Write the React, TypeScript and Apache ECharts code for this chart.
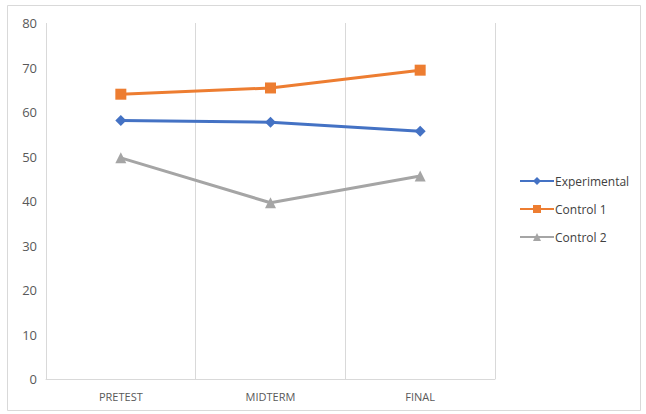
import React, { useEffect, useRef } from "react";
import * as echarts from "echarts";

const categories = ["PRETEST", "MIDTERM", "FINAL"];
const experimental = [58.1, 57.7, 55.7];
const control1 = [64.0, 65.4, 69.4];
const control2 = [49.7, 39.6, 45.6];
const seriesNames = ["Experimental", "Control 1", "Control 2"];

export default function App() {
  const ref = useRef<HTMLDivElement>(null);
  useEffect(() => {
    const chart = echarts.init(ref.current!, null, { renderer: "svg" });
    const font = "'Open Sans', 'Liberation Sans', sans-serif";
    const mk = (name: string, data: number[], color: string, symbol: string, size: number) => ({
      name,
      type: "line",
      data,
      symbol,
      symbolSize: size,
      lineStyle: { color, width: 3 },
      itemStyle: { color },
    });
    chart.setOption({
      animation: false,
      backgroundColor: "#ffffff",
      textStyle: { fontFamily: font },
      graphic: [
        {
          type: "rect",
          shape: { x: 7.5, y: 5.5, width: 633, height: 405 },
          style: { fill: "none", stroke: "#d9d9d9", lineWidth: 1 },
          silent: true,
        },
      ],
      grid: { left: 46, right: 151, top: 23, bottom: 35 },
      legend: {
        orient: "vertical",
        left: 514,
        top: 170,
        itemWidth: 34,
        itemHeight: 10,
        itemGap: 16,
        data: seriesNames,
        textStyle: { color: "#404040", fontSize: 12, fontFamily: font, padding: [0, 0, 0, -4] },
      },
      xAxis: {
        type: "category",
        data: categories,
        boundaryGap: true,
        axisLine: { show: true, lineStyle: { color: "#d9d9d9", width: 1 } },
        axisTick: { show: false },
        splitLine: { show: true, lineStyle: { color: "#d9d9d9", width: 1 } },
        axisLabel: { color: "#595959", fontSize: 11, margin: 12, fontFamily: font },
      },
      yAxis: {
        type: "value",
        min: 0,
        max: 80,
        interval: 10,
        axisLine: { show: false },
        axisTick: { show: false },
        splitLine: { show: false },
        axisLabel: { color: "#595959", fontSize: 13, margin: 9, fontFamily: font },
      },
      series: [
        mk(seriesNames[0], experimental, "#4472c4", "diamond", 11),
        mk(seriesNames[1], control1, "#ed7d31", "rect", 11),
        mk(seriesNames[2], control2, "#a5a5a5", "triangle", 11),
      ],
    });
    return () => chart.dispose();
  }, []);
  return (
    <div
      ref={ref}
      style={{ position: "fixed", left: 0, top: 0, width: 646, height: 414 }}
    />
  );
}
